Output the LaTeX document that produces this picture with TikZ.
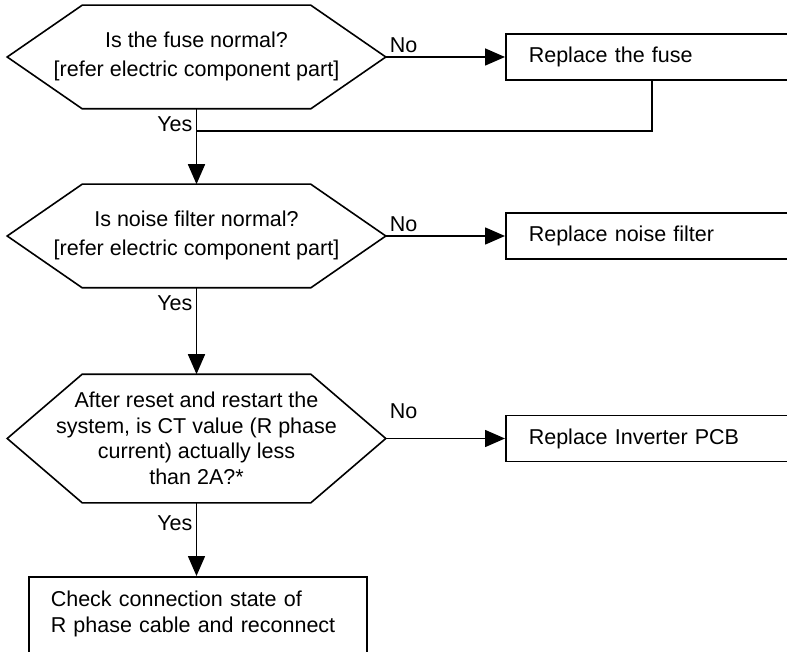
\documentclass[tikz,border=0pt]{standalone}
\usepackage{fontspec}
\setmainfont{Liberation Sans}
\usetikzlibrary{arrows.meta}

\begin{document}
\begin{tikzpicture}[x=1pt, y=-1pt, line width=1.6pt, >={Triangle[length=20pt,width=17pt]},
        txt/.style={font=\fontsize{21.5}{29}\selectfont},
        decision/.style={txt, align=center, minimum width=377pt, minimum height=102pt, inner sep=0pt},
        action/.style={txt, draw, align=left, text width=246pt, inner xsep=23pt, minimum height=46pt, anchor=west}]
        \clip (0,0) rectangle (787,652);
        \useasboundingbox (0,0) rectangle (787,652);

        % questions
        \node[decision, text depth=6pt] (q1) at (196.5,57) {Is the fuse normal?\\{}[refer electric component part]};
        \node[decision, text depth=6pt] (q2) at (196.5,236) {Is noise filter normal?\\{}[refer electric component part]};
        \node[decision, minimum height=127pt, font=\fontsize{21.5}{25.5}\selectfont] (q3) at (196.5,438.5)
            {After reset and restart the\\system, is CT value (R phase\\current) actually less\\than 2A?*};
        \foreach \q in {q1,q2,q3}
            \draw (\q.west) -- ([xshift=75pt]\q.north west) -- ([xshift=-75pt]\q.north east) -- (\q.east)
                -- ([xshift=-75pt]\q.south east) -- ([xshift=75pt]\q.south west) -- cycle;

        % actions
        \node[action] (r1) at (505,57) {Replace the fuse};
        \node[action] (r2) at (505,236) {Replace noise filter};
        \node[action] (r3) at (505,438.5) {Replace Inverter PCB};
        \node[txt, draw, font=\fontsize{21.5}{26}\selectfont, align=left, anchor=north west, text width=294pt,
            inner xsep=22pt, inner ysep=14pt, text depth=40pt] (r4) at (28,576)
            {Check connection state of\\R phase cable and reconnect};

        % connectors
        \coordinate (j1) at (196.5,131);
        \draw[->] (q1.south) -- (q2.north) node[txt, pos=0, below left, yshift=-4pt]{Yes};
        \draw (r1.south) |- (j1);
        \draw[->] (q2.south) -- (q3.north) node[txt, pos=0, below left, yshift=-4pt]{Yes};
        \draw[->] (q3.south) -- (q3.south |- r4.north) node[txt, pos=0, below left, yshift=-9pt]{Yes};
        \draw[->] (q1.east) -- (r1.west) node[txt, pos=0, above right]{No};
        \draw[->] (q2.east) -- (r2.west) node[txt, pos=0, above right]{No};
        \draw[->] (q3.east) -- (r3.west) node[txt, pos=0, above right, yshift=16pt]{No};
    \end{tikzpicture}
\end{document}
